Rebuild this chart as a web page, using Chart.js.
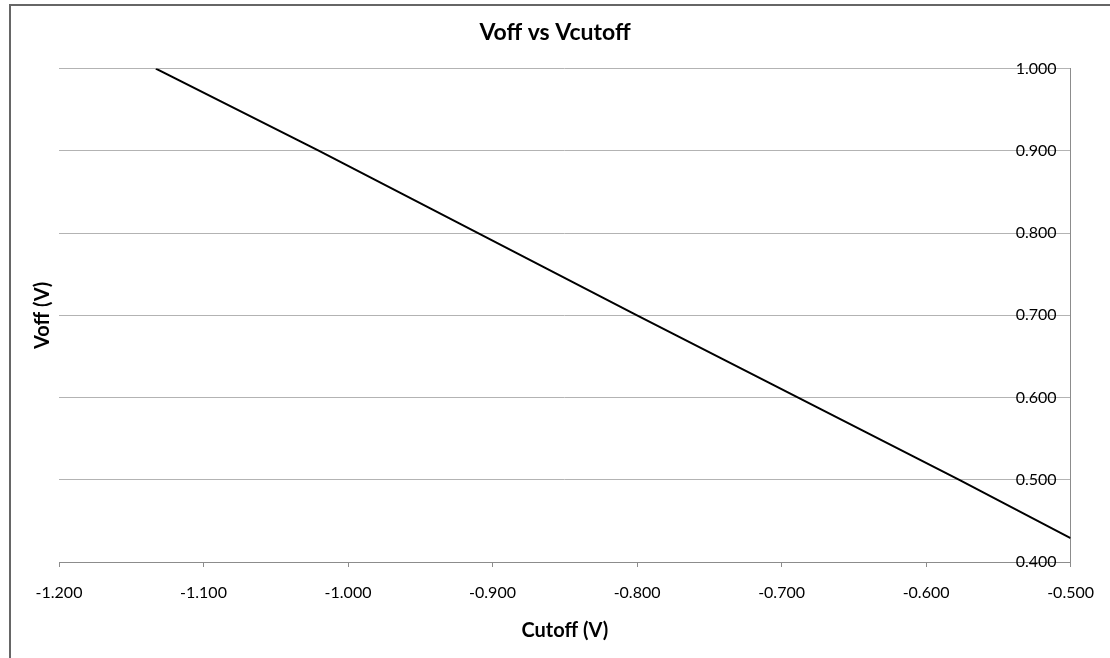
<!DOCTYPE html>
<html>
<head>
<meta charset="utf-8">
<title>Voff vs Vcutoff</title>
<script src="https://cdn.jsdelivr.net/npm/chart.js@4/dist/chart.umd.min.js"></script>
<style>
  html, body { margin: 0; padding: 0; background: #fff; overflow: hidden; }
  #frame {
    position: absolute; left: 9px; top: 4px; width: 1110px; height: 660px;
    border-top: 2px solid #666; border-left: 2px solid #666;
  }
  #wrap { position: absolute; left: 0; top: 0; width: 1110px; height: 658px; }
</style>
</head>
<body>
<div id="frame"></div>
<div id="wrap"><canvas id="chart" width="1110" height="658"></canvas></div>
<script>
// --- Data ---
const cutoffV = [-1.133, -1.020, -0.800, -0.577, -0.500]
const voffV = [1.000, 0.900, 0.700, 0.500, 0.429]
const xTicks = [-1.2, -1.1, -1.0, -0.9, -0.8, -0.7, -0.6, -0.5]
const yTicks = [0.4, 0.5, 0.6, 0.7, 0.8, 0.9, 1.0]

const FONT = 'Lato, "Open Sans", "DejaVu Sans", sans-serif'
const AXIS = '#8c8c8c'
const GRID = '#b3b3b3'

const points = cutoffV.map((x, i) => ({ x: x, y: voffV[i] }))

Chart.defaults.font.family = FONT
Chart.defaults.color = '#000'

new Chart(document.getElementById('chart'), {
  type: 'scatter',
  data: {
    datasets: [{
      data: points,
      showLine: true,
      borderColor: '#000',
      borderWidth: 2,
      pointRadius: 0,
      pointHoverRadius: 0,
      fill: false
    }]
  },
  options: {
    responsive: false,
    animation: false,
    layout: { padding: 0 },
    plugins: {
      legend: { display: false },
      tooltip: { enabled: false },
      title: {
        display: true,
        text: 'Voff vs Vcutoff',
        color: '#000',
        font: { size: 23, weight: 'bold', family: FONT },
        padding: { top: 19, bottom: 22 }
      }
    },
    scales: {
      x: {
        type: 'linear',
        position: 'bottom',
        min: xTicks[0],
        max: xTicks[xTicks.length - 1],
        afterBuildTicks: s => { s.ticks = xTicks.map(v => ({ value: v })) },
        afterFit: s => { s.height = 96 },
        grid: { drawOnChartArea: false, drawTicks: true, tickLength: 5, color: AXIS },
        border: { display: true, color: AXIS },
        ticks: {
          padding: 16,
          maxRotation: 0,
          font: { size: 16 },
          color: '#000',
          callback: v => v.toFixed(3)
        },
        title: {
          display: true,
          text: 'Cutoff (V)',
          color: '#000',
          font: { size: 20, weight: 'bold' },
          padding: { top: 0, bottom: 15 }
        }
      },
      y: {
        type: 'linear',
        position: 'right',
        min: yTicks[0],
        max: yTicks[yTicks.length - 1],
        afterBuildTicks: s => { s.ticks = yTicks.map(v => ({ value: v })) },
        afterFit: s => { s.width = 34 },
        grid: { drawOnChartArea: true, drawTicks: false, color: GRID },
        border: { display: true, color: AXIS },
        ticks: {
          // mirrored labels sit just left of the right-hand axis line
          mirror: true,
          padding: -14,
          font: { size: 16 },
          color: '#000',
          callback: v => v.toFixed(3)
        }
      },
      // left-hand axis only carries the "Voff (V)" title
      yTitle: {
        type: 'linear',
        position: 'left',
        min: yTicks[0],
        max: yTicks[yTicks.length - 1],
        afterFit: s => { s.width = 59 },
        grid: { display: false, drawTicks: false },
        border: { display: false },
        ticks: { display: false },
        title: {
          display: true,
          text: 'Voff (V)',
          color: '#000',
          font: { size: 20, weight: 'bold' },
          padding: { top: 31, bottom: 0 }
        }
      }
    }
  }
})
</script>
</body>
</html>
